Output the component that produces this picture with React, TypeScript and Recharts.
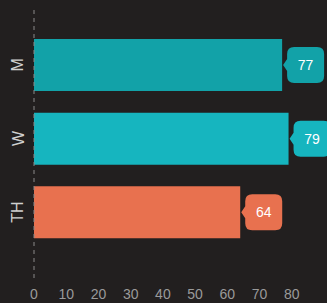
import React from 'react';
import { BarChart, Bar, XAxis, YAxis, Cell, ReferenceLine, LabelList } from 'recharts';

const categories = ['M', 'W', 'TH'];
const values = [77, 79, 64];
const colors = ['#12a2a8', '#16b5bf', '#e8714f'];
const xTicks = [0, 10, 20, 30, 40, 50, 60, 70, 80];

const data = categories.map((c, i) => ({ name: c, value: values[i], color: colors[i] }));

const FONT = '"Liberation Sans", Arial, Helvetica, sans-serif';

const YTick = (props: any) => {
  const { y, payload } = props;
  return (
    <text x={18} y={y} transform={`rotate(-90 18 ${y})`} textAnchor="middle" dominantBaseline="central"
      fill="#d0d0d0" fontSize={16} fontFamily={FONT}>
      {payload.value}
    </text>
  );
};

const Callout = (props: any) => {
  const { x, y, width, height, value, index } = props;
  const tipX = x + width + 1;
  const cy = y + height / 2;
  const bx = tipX + 4;
  const w = 37;
  const h = 36;
  const r = 7;
  const top = cy - h / 2;
  const bot = cy + h / 2;
  const d = `M ${tipX} ${cy} L ${bx} ${cy - 6} L ${bx} ${top + r} Q ${bx} ${top} ${bx + r} ${top} L ${bx + w - r} ${top} Q ${bx + w} ${top} ${bx + w} ${top + r} L ${bx + w} ${bot - r} Q ${bx + w} ${bot} ${bx + w - r} ${bot} L ${bx + r} ${bot} Q ${bx} ${bot} ${bx} ${bot - r} L ${bx} ${cy + 6} Z`;
  return (
    <g>
      <path d={d} fill={colors[index]} />
      <text x={bx + w / 2} y={cy} textAnchor="middle" dominantBaseline="central" fill="#ffffff" fontSize={14} fontFamily={FONT}>
        {value}
      </text>
    </g>
  );
};

export default function App() {
  return (
    <div style={{ position: 'absolute', left: 0, top: 0, width: 327, height: 303, background: '#221f1f' }}>
      <BarChart width={327} height={303} data={data} layout="vertical"
        margin={{ top: 8, right: 3, bottom: 0, left: 0 }} barSize={52}>
        <XAxis type="number" domain={[0, 90]} ticks={xTicks} axisLine={false} tickLine={false}
          tickSize={0} tickMargin={11} height={25} interval={0}
          tick={{ fill: '#9a9a9a', fontSize: 14, fontFamily: FONT }} />
        <YAxis type="category" dataKey="name" width={34} axisLine={false} tickLine={false}
          padding={{ top: 20, bottom: 29 }} tick={<YTick />} />
        <ReferenceLine x={0} stroke="#8a8a8a" strokeDasharray="4 4" strokeWidth={1} />
        <Bar dataKey="value" isAnimationActive={false}>
          {data.map((d, i) => <Cell key={i} fill={d.color} />)}
          <LabelList dataKey="value" content={<Callout />} />
        </Bar>
      </BarChart>
    </div>
  );
}
